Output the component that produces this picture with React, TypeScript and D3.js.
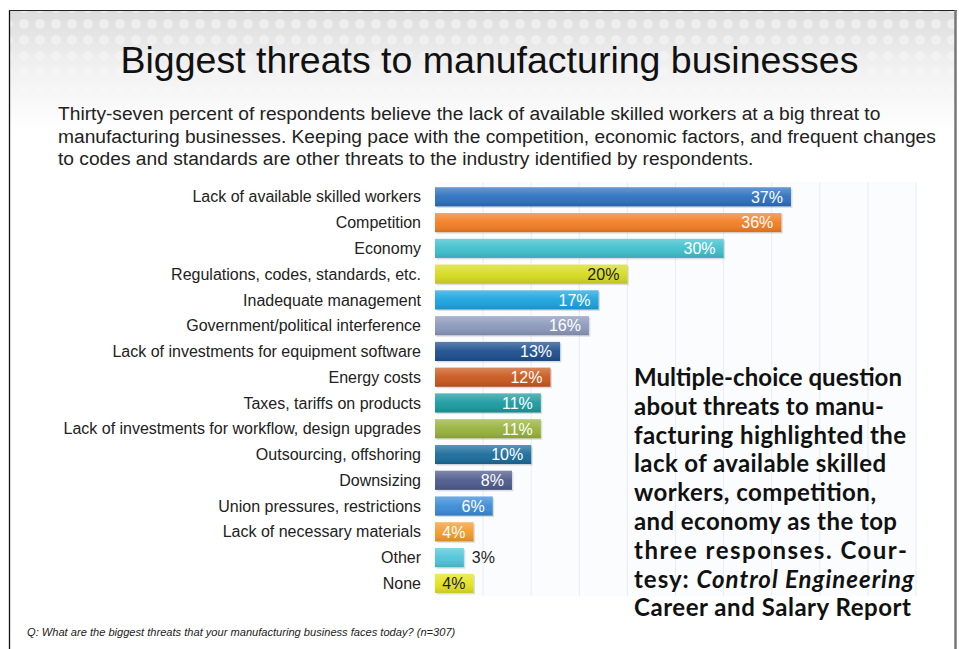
import React from "react";
import * as d3 from "d3";

const categories = [
  "Lack of available skilled workers",
  "Competition",
  "Economy",
  "Regulations, codes, standards, etc.",
  "Inadequate management",
  "Government/political interference",
  "Lack of investments for equipment software",
  "Energy costs",
  "Taxes, tariffs on products",
  "Lack of investments for workflow, design upgrades",
  "Outsourcing, offshoring",
  "Downsizing",
  "Union pressures, restrictions",
  "Lack of necessary materials",
  "Other",
  "None",
];
const values = [37, 36, 30, 20, 17, 16, 13, 12, 11, 11, 10, 8, 6, 4, 3, 4];
const barColors = [
  "#2c6fbe", "#f27d22", "#3ebfcc", "#d6db1e", "#1aa3df", "#8b98bb",
  "#1c4e8e", "#c9571d", "#1a9a9f", "#98b23b", "#1a6b9b", "#4d5a8c",
  "#3a8bd7", "#f39a2b", "#4ec5d8", "#e3e31c",
];
const darkLabel = [false, false, false, true, false, false, false, false, false, false, false, false, false, false, true, true];
const gridTicks = [5, 10, 15, 20, 25, 30, 35, 40, 45, 50];

const title = "Biggest threats to manufacturing businesses";
const subtitleLines = [
  "Thirty-seven percent of respondents believe the lack of available skilled workers at a big threat to",
  "manufacturing businesses. Keeping pace with the competition, economic factors, and frequent changes",
  "to codes and standards are other threats to the industry identified by respondents.",
];
const footnote = "Q: What are the biggest threats that your manufacturing business faces today? (n=307)";
const captionLines: { text: string; italic?: string }[] = [
  { text: "Multiple-choice question" },
  { text: "about threats to manu-" },
  { text: "facturing highlighted the" },
  { text: "lack of available skilled" },
  { text: "workers, competition," },
  { text: "and economy as the top" },
  { text: "three responses. Cour-" },
  { text: "tesy: ", italic: "Control Engineering" },
  { text: "Career and Salary Report" },
];

export default function App() {
  const W = 959, H = 649;
  const x = d3.scaleLinear().domain([0, 50]).range([435, 916]);
  const y = d3.scaleBand<string>().domain(categories).range([180.6, 599.6]).padding(0.26);
  const bh = y.bandwidth();
  const font = "Arial, 'Liberation Sans', Helvetica, sans-serif";
  const captionWidths = [268, 250, 272, 252, 242, 263, 273, 280, 277];

  return (
    <svg width={W} height={H} style={{ position: "absolute", left: 0, top: 0, background: "#fff" }}>
      <defs>
        <linearGradient id="topbg" x1="0" y1="0" x2="0" y2="1">
          <stop offset="0" stopColor="#dcdcdc" />
          <stop offset="0.45" stopColor="#f0f0f0" />
          <stop offset="1" stopColor="#ffffff" />
        </linearGradient>
        <pattern id="dots" width="16" height="16" patternUnits="userSpaceOnUse">
          <circle cx="8" cy="8" r="5" fill="#ffffff" opacity="0.55" />
        </pattern>
        <linearGradient id="fade" x1="0" y1="0" x2="0" y2="1">
          <stop offset="0" stopColor="#fff" stopOpacity="1" />
          <stop offset="1" stopColor="#fff" stopOpacity="0" />
        </linearGradient>
        <mask id="dotmask">
          <rect x="0" y="0" width={W} height="120" fill="url(#fade)" />
        </mask>
        <linearGradient id="sheen" x1="0" y1="0" x2="0" y2="1">
          <stop offset="0" stopColor="#fff" stopOpacity="0.28" />
          <stop offset="0.5" stopColor="#fff" stopOpacity="0.05" />
          <stop offset="1" stopColor="#000" stopOpacity="0.12" />
        </linearGradient>
      </defs>
      <rect x={0} y={0} width={W} height={H} fill="#fff" />
      <rect x={10} y={11} width={945} height={120} fill="url(#topbg)" />
      <rect x={10} y={11} width={945} height={110} fill="url(#dots)" mask="url(#dotmask)" />
      {/* border */}
      <line x1={9.5} y1={10} x2={9.5} y2={H} stroke="#111" strokeWidth={1.3} />
      <line x1={9} y1={10.5} x2={957} y2={10.5} stroke="#222" strokeWidth={1} />
      <line x1={955.5} y1={10} x2={955.5} y2={H} stroke="#777" strokeWidth={2.5} />

      <text x={489.5} y={73} textAnchor="middle" fontFamily={font} fontSize={37.5} fill="#111">{title}</text>
      {subtitleLines.map((l, i) => (
        <text key={i} x={58} y={120 + i * 22.5} fontFamily={font} fontSize={19.2} fill="#222">{l}</text>
      ))}

      {/* plot area */}
      <rect x={435} y={182} width={481} height={414} fill="#fbfcfe" />
      {gridTicks.map((t) => (
        <line key={t} x1={x(t)} x2={x(t)} y1={182} y2={596} stroke="#e6edf5" strokeWidth={1} />
      ))}

      {categories.map((c, i) => {
        const yy = y(c)!;
        const w = x(values[i]) - x(0);
        const inside = values[i] >= 4;
        return (
          <g key={c}>
            <text x={421} y={yy + bh / 2} dy="0.35em" textAnchor="end" fontFamily={font} fontSize={16} fill="#222">{c}</text>
            <rect x={x(0) + 1.5} y={yy + 1.5} width={w} height={bh} fill="#000" opacity={0.12} />
            <rect x={x(0)} y={yy} width={w} height={bh} fill={barColors[i]} />
            <rect x={x(0)} y={yy} width={w} height={bh} fill="url(#sheen)" />
            <text
              x={inside ? x(values[i]) - 8 : x(values[i]) + 8}
              y={yy + bh / 2}
              dy="0.36em"
              textAnchor={inside ? "end" : "start"}
              fontFamily={font}
              fontSize={16}
              fill={darkLabel[i] ? "#222" : "#fff"}
            >{values[i]}%</text>
          </g>
        );
      })}

      <text x={27} y={636} fontFamily={font} fontStyle="italic" fontSize={11.1} fill="#222">{footnote}</text>

      {captionLines.map((l, i) => (
        <text
          key={i}
          x={634}
          y={386 + i * 28.8}
          fontFamily="Lato, 'Open Sans', sans-serif"
          fontWeight={700}
          fontSize={24}
          fill="#111"
          textLength={captionWidths[i]}
          lengthAdjust="spacing"
        >
          {l.text}
          {l.italic ? <tspan fontStyle="italic">{l.italic}</tspan> : null}
        </text>
      ))}
    </svg>
  );
}
